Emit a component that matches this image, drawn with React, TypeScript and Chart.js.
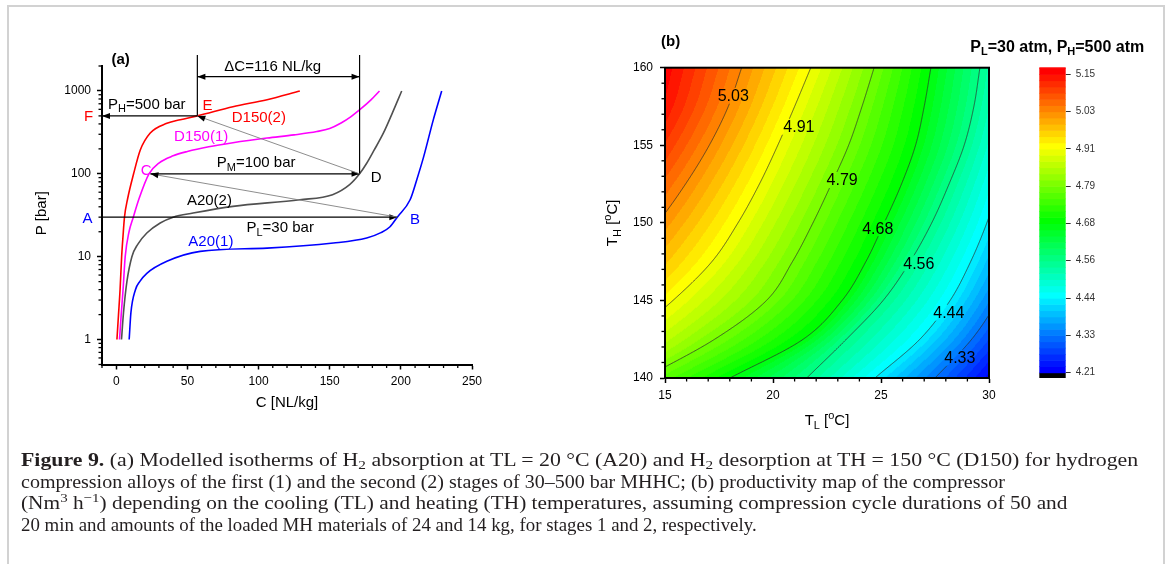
import React, { useEffect, useRef } from 'react';
import { Chart, registerables } from 'chart.js';

Chart.register(...registerables);

const SANS = "Arial, 'Liberation Sans', Helvetica, sans-serif";
const SERIF = "'Liberation Serif', 'Times New Roman', Times, serif";

// ---------------- Panel (a): isotherms, C [NL/kg] vs P [bar] ----------------
const D150_2_C = [0.5, 1.6, 2.7, 3.8, 4.8, 5.8, 8, 12.2, 16.9, 23.9, 35.6, 45, 57, 82, 106, 129];
const D150_2_P = [1, 2, 4, 10, 18, 30, 50, 100, 194, 311, 407, 450, 500, 645, 785, 1000];

const D150_1_C = [2.3, 3.5, 4.8, 6.3, 9, 12, 16, 23, 30, 40, 50, 65, 82, 106, 125, 141, 150, 158, 165, 172, 179, 185];
const D150_1_P = [1, 2, 4, 10, 20, 30, 50, 100, 135, 165, 186, 212, 237, 270, 295, 324, 352, 410, 490, 610, 780, 1000];

const A20_2_C = [3.7, 5.1, 7.5, 11, 15, 21.5, 30.9, 40, 54, 82, 129, 152, 164, 171, 176, 181, 187.7, 194, 200.6];
const A20_2_P = [1, 2.1, 5, 10, 14, 19.3, 25.5, 30, 33.6, 40.5, 48.6, 56, 74, 100, 134, 190, 309, 540, 1000];

const A20_1_C = [9.1, 10.3, 13.5, 16.5, 21.5, 35.6, 59, 106, 152.6, 176, 186, 192.4, 197.5, 206.5, 211.2, 216, 222.8, 228.7];
const A20_1_P = [1, 2.1, 4, 5, 6.3, 8.8, 11.6, 12.7, 14.6, 16.8, 19.5, 23, 30, 48.6, 85, 160, 448, 1000];

// cycle points A..F
const CYCLE_NAMES = ['A', 'B', 'C', 'D', 'E', 'F'];
const CYCLE_C = [-10, 197.5, 24, 171, 57, -10];
const CYCLE_P = [30, 30, 100, 100, 500, 500];

const X_TICKS_A = [0, 50, 100, 150, 200, 250];
const Y_TICKS_A = [1, 10, 100, 1000];

// text labels of panel (a), anchored in data coordinates
const LABELS_A: any[] = [
  { c: 64.1, p: 659, color: '#ff0000', parts: [['E']] },
  { c: -19.4, p: 490, color: '#ff0000', parts: [['F']] },
  { c: 21.1, p: 109, color: '#ff00ff', parts: [['C']] },
  { c: 182.6, p: 89, color: '#000000', parts: [['D']] },
  { c: -20.2, p: 28.5, color: '#0000ff', parts: [['A']] },
  { c: 210, p: 27.9, color: '#0000ff', parts: [['B']] },
  { c: 65.5, p: 47.7, color: '#000000', parts: [['A20(2)']] },
  { c: 66.5, p: 14.9, color: '#0000ff', parts: [['A20(1)']] },
  { c: 59.7, p: 281, color: '#ff00ff', parts: [['D150(1)']] },
  { c: 100.2, p: 469, color: '#ff0000', parts: [['D150(2)']] },
  { c: 21.5, p: 678, color: '#000000', parts: [['P'], ['H', 'sub'], ['=500 bar']] },
  { c: 98.3, p: 134.6, color: '#000000', parts: [['P'], ['M', 'sub'], ['=100 bar']] },
  { c: 115.2, p: 22.2, color: '#000000', parts: [['P'], ['L', 'sub'], ['=30 bar']] },
  { c: 110, p: 1930, color: '#000000', parts: [['\u0394C=116 NL/kg']] },
];
const DIM_TOP_P = 2716; // top of the dimension lines
const DIM_ARROW_P = 1487; // level of the ΔC arrow

const TH_SAMPLES = [140, 142.5, 145, 147.5, 150, 152.5, 155, 157.5, 160];
// T_L position [°C] of each contour level at the T_H samples above
const TL_AT_433 = [27.5, 29.2, 30.4, 31.3, 32.0, 32.6, 33.1, 33.5, 33.9];
const TL_AT_444 = [24.72, 26.8, 28.2, 29.15, 29.9, 30.5, 31.0, 31.4, 31.7];
const TL_AT_456 = [21.56, 23.4, 25.1, 26.35, 27.35, 28.15, 28.85, 29.3, 29.58];
const TL_AT_468 = [18.01, 21.4, 23.2, 24.3, 25.15, 25.95, 26.6, 27.0, 27.31];
const TL_AT_479 = [14.05, 17.3, 19.7, 20.9, 21.85, 22.7, 23.5, 24.12, 24.68];
const TL_AT_491 = [11.0, 13.2, 15.37, 17.17, 18.38, 19.37, 20.22, 21.0, 21.75];
const TL_AT_503 = [8.3, 9.9, 11.5, 13.1, 14.66, 15.95, 17.05, 17.93, 18.55];
const CONTOUR_LEVELS = [4.3275, 4.445, 4.5625, 4.68, 4.7975, 4.915, 5.0325];
const CONTOUR_TL = [TL_AT_433, TL_AT_444, TL_AT_456, TL_AT_468, TL_AT_479, TL_AT_491, TL_AT_503];
const CONTOUR_TEXT = ['4.33', '4.44', '4.56', '4.68', '4.79', '4.91', '5.03'];
const CONTOUR_LABEL_TL = [28.65, 28.14, 26.75, 24.85, 23.2, 21.2, 18.16];
const CONTOUR_LABEL_TH = [141.3, 144.2, 147.4, 149.65, 152.76, 156.2, 158.2];

const X_TICKS_B = [15, 20, 25, 30];
const Y_TICKS_B = [140, 145, 150, 155, 160];

const CB_TICKS = [4.21, 4.3275, 4.445, 4.5625, 4.68, 4.7975, 4.915, 5.0325, 5.15];
const CB_LABELS = ['4.21', '4.33', '4.44', '4.56', '4.68', '4.79', '4.91', '5.03', '5.15'];
const CB_MIN = 4.193;
const CB_MAX = 5.172;
const COLOR_LO = 4.21;
const COLOR_HI = 5.15;
const BAND = 0.1175 / 6;

// ---------------- caption ----------------
const CAP_LEFT = 21;
const CAP_RIGHT = [1138, 1005, 1068, 757];
const CAP_Y = [460, 481.5, 503, 524.5];

// ---------------- helpers ----------------
function rainbow(t: number) {
  const tt = Math.max(0, Math.min(1, t));
  const stops = [[0, 0, 255], [0, 255, 255], [0, 255, 0], [255, 255, 0], [255, 0, 0]];
  const f = tt * 4;
  const i = Math.min(3, Math.floor(f));
  const u = f - i;
  return stops[i].map((c, k) => Math.round(c + (stops[i + 1][k] - c) * u));
}

function bandColor(v: number) {
  if (v < COLOR_LO) return [0, 0, 0];
  const k = Math.floor((v - COLOR_LO) / BAND);
  return rainbow((k * BAND) / (COLOR_HI - COLOR_LO));
}

function cr(p0: number, p1: number, p2: number, p3: number, t: number) {
  return 0.5 * (2 * p1 + (-p0 + p2) * t + (2 * p0 - 5 * p1 + 4 * p2 - p3) * t * t + (-p0 + 3 * p1 - 3 * p2 + p3) * t * t * t);
}

// position (T_L) of one contour line at a given T_H
function lineTL(arr: number[], th: number) {
  const n = arr.length;
  const f = (th - TH_SAMPLES[0]) / (TH_SAMPLES[1] - TH_SAMPLES[0]);
  const i = Math.min(Math.max(Math.floor(f), 0), n - 2);
  const t = f - i;
  const g = (k: number) => (k < 0 ? 2 * arr[0] - arr[1] : k >= n ? 2 * arr[n - 1] - arr[n - 2] : arr[k]);
  return cr(g(i - 1), g(i), g(i + 1), g(i + 2), t);
}

// productivity at (T_L, T_H), linear between neighbouring contour lines
function prodAt(tl: number, th: number) {
  const pos = CONTOUR_TL.map((a) => lineTL(a, th));
  const L = CONTOUR_LEVELS;
  const n = L.length;
  if (tl >= pos[0]) return L[0] - ((tl - pos[0]) / (pos[0] - pos[1])) * (L[1] - L[0]);
  if (tl <= pos[n - 1]) return L[n - 1] + ((pos[n - 1] - tl) / (pos[n - 2] - pos[n - 1])) * (L[n - 1] - L[n - 2]);
  for (let k = 0; k < n - 1; k++) {
    if (tl <= pos[k] && tl >= pos[k + 1]) {
      const f = (pos[k] - tl) / (pos[k] - pos[k + 1]);
      return L[k] + f * (L[k + 1] - L[k]);
    }
  }
  return L[0];
}

function drawParts(ctx: any, x: number, y: number, parts: any[], size: number, color: string, align = 'center', bold = false) {
  const w = bold ? 'bold ' : '';
  const fontFor = (p: any) => `${w}${p[1] ? Math.round(size * 0.7) : size}px ${SANS}`;
  let total = 0;
  for (const p of parts) {
    ctx.font = fontFor(p);
    total += ctx.measureText(p[0]).width;
  }
  let cx = align === 'left' ? x : align === 'right' ? x - total : x - total / 2;
  ctx.fillStyle = color;
  ctx.textAlign = 'left';
  ctx.textBaseline = 'middle';
  for (const p of parts) {
    ctx.font = fontFor(p);
    const dy = p[1] === 'sub' ? size * 0.3 : p[1] === 'sup' ? -size * 0.33 : 0;
    ctx.fillText(p[0], cx, y + dy);
    cx += ctx.measureText(p[0]).width;
  }
}

function arrowHead(ctx: any, xa: number, ya: number, xb: number, yb: number) {
  const ang = Math.atan2(yb - ya, xb - xa);
  const L = 8, W = 3;
  const bx = xb - L * Math.cos(ang), by = yb - L * Math.sin(ang);
  ctx.fillStyle = '#000';
  ctx.beginPath();
  ctx.moveTo(xb, yb);
  ctx.lineTo(bx + W * Math.sin(ang), by - W * Math.cos(ang));
  ctx.lineTo(bx - W * Math.sin(ang), by + W * Math.cos(ang));
  ctx.closePath();
  ctx.fill();
}

function seg(ctx: any, x1: number, y1: number, x2: number, y2: number, color: string, lw: number) {
  ctx.strokeStyle = color;
  ctx.lineWidth = lw;
  ctx.beginPath();
  ctx.moveTo(x1, y1);
  ctx.lineTo(x2, y2);
  ctx.stroke();
}

const axisCommon = {
  grid: { display: true, drawOnChartArea: false, drawTicks: true, tickLength: 5, tickWidth: 1.5, color: '#000' },
  border: { display: true, width: 2, color: '#000' },
};

// ---------------- Panel (a) plugin ----------------
const panelAPlugin = {
  id: 'panelA',
  afterDraw(chart: any) {
    const { ctx, chartArea: a, scales } = chart;
    const X = (c: number) => scales.x.getPixelForValue(c);
    const Y = (p: number) => scales.y.getPixelForValue(p);
    ctx.save();
    ctx.lineCap = 'butt';
    for (let v = -10; v <= 250; v += 10) {
      if (v % 50 === 0) continue;
      seg(ctx, X(v), a.bottom, X(v), a.bottom + 3.5, '#000', 1.3);
    }
    for (let d = -1; d <= 3; d++) {
      for (let m = 2; m <= 9; m++) {
        const v = m * Math.pow(10, d);
        if (v < 0.5 - 1e-9 || v > 2000 + 1e-6) continue;
        seg(ctx, a.left - 3.5, Y(v), a.left, Y(v), '#000', 1.3);
      }
    }
    const P = (i: number) => [X(CYCLE_C[i]), Y(CYCLE_P[i])];
    const [ax, ay] = P(0), [bx, by] = P(1), [cx, cy] = P(2), [dx, dy] = P(3), [ex, ey] = P(4), [fx, fy] = P(5);
    seg(ctx, ex, ey, ex, Y(DIM_TOP_P), '#000', 1.2);
    seg(ctx, dx, dy, dx, Y(DIM_TOP_P), '#000', 1.2);
    const yd = Y(DIM_ARROW_P);
    seg(ctx, ex, yd, dx, yd, '#000', 1.2);
    arrowHead(ctx, dx, yd, ex, yd);
    arrowHead(ctx, ex, yd, dx, yd);
    seg(ctx, ax, ay, bx, by, '#000', 1.2);
    arrowHead(ctx, ax, ay, bx, by);
    seg(ctx, bx, by, cx, cy, '#808080', 0.9);
    arrowHead(ctx, bx, by, cx, cy);
    seg(ctx, cx, cy, dx, dy, '#000', 1.2);
    arrowHead(ctx, cx, cy, dx, dy);
    seg(ctx, dx, dy, ex, ey, '#808080', 0.9);
    arrowHead(ctx, dx, dy, ex, ey);
    seg(ctx, ex, ey, fx, fy, '#000', 1.2);
    arrowHead(ctx, ex, ey, fx, fy);
    for (const L of LABELS_A) drawParts(ctx, X(L.c), Y(L.p), L.parts, 15, L.color);
    drawParts(ctx, a.left + 9.5, a.top - 6.5, [['(a)']], 15, '#000', 'left', true);
    drawParts(ctx, (a.left + a.right) / 2, a.bottom + 38.5, [['C [NL/kg]']], 15, '#000');
    ctx.translate(a.left - 60, (a.top + a.bottom) / 2 - 2);
    ctx.rotate(-Math.PI / 2);
    drawParts(ctx, 0, 0, [['P [bar]']], 15, '#000');
    ctx.restore();
  },
};

// ---------------- Panel (b) plugin ----------------
const panelBPlugin = {
  id: 'panelB',
  beforeDatasetsDraw(chart: any) {
    const { ctx, chartArea: a, scales } = chart;
    const xs = scales.x, ys = scales.y;
    const w = Math.round(a.right - a.left), h = Math.round(a.bottom - a.top);
    const off = document.createElement('canvas');
    off.width = w;
    off.height = h;
    const octx = off.getContext('2d') as CanvasRenderingContext2D;
    const img = octx.createImageData(w, h);
    for (let j = 0; j < h; j++) {
      const th = ys.getValueForPixel(a.top + j + 0.5);
      for (let i = 0; i < w; i++) {
        const tl = xs.getValueForPixel(a.left + i + 0.5);
        const c = bandColor(prodAt(tl, th));
        const o = (j * w + i) * 4;
        img.data[o] = c[0];
        img.data[o + 1] = c[1];
        img.data[o + 2] = c[2];
        img.data[o + 3] = 255;
      }
    }
    octx.putImageData(img, 0, 0);
    ctx.save();
    ctx.drawImage(off, a.left, a.top, w, h);

    // contour lines, broken under their labels
    ctx.font = `16px ${SANS}`;
    ctx.beginPath();
    ctx.rect(a.left, a.top, a.right - a.left, a.bottom - a.top);
    CONTOUR_TEXT.forEach((t, k) => {
      const tw = ctx.measureText(t).width;
      const cx = xs.getPixelForValue(CONTOUR_LABEL_TL[k]);
      const cy = ys.getPixelForValue(CONTOUR_LABEL_TH[k]);
      ctx.rect(cx - tw / 2 - 2, cy - 8, tw + 4, 16);
    });
    ctx.clip('evenodd');
    ctx.strokeStyle = 'rgba(45,45,45,0.9)';
    ctx.lineWidth = 0.8;
    CONTOUR_TL.forEach((arr) => {
      ctx.beginPath();
      for (let s = 0; s <= 400; s++) {
        const th = 140 + (s * 20) / 400;
        const px = xs.getPixelForValue(lineTL(arr, th));
        const py = ys.getPixelForValue(th);
        if (s === 0) ctx.moveTo(px, py);
        else ctx.lineTo(px, py);
      }
      ctx.stroke();
    });
    ctx.restore();

    ctx.save();
    ctx.fillStyle = '#000';
    ctx.font = `16px ${SANS}`;
    ctx.textAlign = 'center';
    ctx.textBaseline = 'middle';
    CONTOUR_TEXT.forEach((t, k) => {
      ctx.fillText(t, xs.getPixelForValue(CONTOUR_LABEL_TL[k]), ys.getPixelForValue(CONTOUR_LABEL_TH[k]) + 1);
    });
    ctx.restore();
  },
  afterDraw(chart: any) {
    const { ctx, chartArea: a, scales } = chart;
    const xs = scales.x, ys = scales.y;
    ctx.save();
    ctx.strokeStyle = '#000';
    ctx.lineWidth = 2;
    ctx.strokeRect(a.left, a.top, a.right - a.left, a.bottom - a.top);
    for (let v = 15; v <= 30; v += 1) {
      if (v % 5 === 0) continue;
      const px = xs.getPixelForValue(v);
      seg(ctx, px, a.bottom, px, a.bottom + 3.5, '#000', 1.3);
    }
    for (let v = 140; v <= 160; v += 1) {
      if (v % 5 === 0) continue;
      const py = ys.getPixelForValue(v);
      seg(ctx, a.left - 3.5, py, a.left, py, '#000', 1.3);
    }
    drawParts(ctx, a.left - 4, a.top - 26, [['(b)']], 15, '#000', 'left', true);
    drawParts(ctx, (a.left + a.right) / 2, a.bottom + 43, [['T'], ['L', 'sub'], [' ['], ['o', 'sup'], ['C]']], 15, '#000');
    ctx.translate(a.left - 52, (a.top + a.bottom) / 2);
    ctx.rotate(-Math.PI / 2);
    drawParts(ctx, 0, 0, [['T'], ['H', 'sub'], [' ['], ['o', 'sup'], ['C]']], 15, '#000');
    ctx.restore();
  },
};

// ---------------- colour bar plugin ----------------
const colorBarPlugin = {
  id: 'colorBar',
  beforeDatasetsDraw(chart: any) {
    const { ctx, chartArea: a, scales } = chart;
    const Y = (v: number) => scales.y.getPixelForValue(v);
    ctx.save();
    ctx.fillStyle = '#000';
    ctx.fillRect(a.left, Y(COLOR_LO), a.right - a.left, Y(CB_MIN) - Y(COLOR_LO));
    for (let k = 0; COLOR_LO + k * BAND < CB_MAX; k++) {
      const lo = COLOR_LO + k * BAND;
      const hi = Math.min(lo + BAND, CB_MAX);
      const c = rainbow((k * BAND) / (COLOR_HI - COLOR_LO));
      ctx.fillStyle = `rgb(${c[0]},${c[1]},${c[2]})`;
      ctx.fillRect(a.left, Y(hi), a.right - a.left, Y(lo) - Y(hi) + 0.6);
    }
    ctx.restore();
  },
  afterDraw(chart: any) {
    const { ctx, chartArea: a } = chart;
    ctx.save();
    drawParts(ctx, a.right + 78.5, a.top - 20, [['P'], ['L', 'sub'], ['=30 atm, P'], ['H', 'sub'], ['=500 atm']], 16, '#000', 'right', true);
    ctx.restore();
  },
};

function makeSeries(cs: number[], ps: number[], color: string) {
  return {
    data: cs.map((c, i) => ({ x: c, y: ps[i] })),
    borderColor: color,
    backgroundColor: color,
    borderWidth: 1.6,
    pointRadius: 0,
    showLine: true,
    fill: false,
    cubicInterpolationMode: 'monotone',
  };
}

const tickFont = { family: SANS, size: 12 };

export default function App() {
  const aRef = useRef<HTMLCanvasElement | null>(null);
  const bRef = useRef<HTMLCanvasElement | null>(null);
  const cRef = useRef<HTMLCanvasElement | null>(null);
  const capRefs = useRef<(HTMLDivElement | null)[]>([]);

  useEffect(() => {
    document.documentElement.style.overflow = 'hidden';
    document.body.style.overflow = 'hidden';
    Chart.defaults.font.family = SANS;

    const chartA = new Chart(aRef.current as HTMLCanvasElement, {
      type: 'scatter',
      data: {
        datasets: [
          makeSeries(A20_1_C, A20_1_P, '#0000ff'),
          makeSeries(A20_2_C, A20_2_P, '#505050'),
          makeSeries(D150_1_C, D150_1_P, '#ff00ff'),
          makeSeries(D150_2_C, D150_2_P, '#ff0000'),
        ] as any,
      },
      options: {
        responsive: false,
        animation: false,
        events: [],
        layout: { padding: { left: 0, right: 88, top: 46, bottom: 0 } },
        plugins: { legend: { display: false }, tooltip: { enabled: false } },
        scales: {
          x: {
            type: 'linear', min: -10, max: 250,
            afterBuildTicks: (s: any) => { s.ticks = X_TICKS_A.map((v) => ({ value: v })); },
            afterFit: (s: any) => { s.height = 85.5; },
            ticks: { color: '#000', font: tickFont, padding: 5, maxRotation: 0, callback: (v: any) => String(v) },
            ...axisCommon,
          },
          y: {
            type: 'logarithmic', min: 0.5, max: 2000,
            afterBuildTicks: (s: any) => { s.ticks = Y_TICKS_A.map((v) => ({ value: v })); },
            afterFit: (s: any) => { s.width = 102; },
            ticks: { color: '#000', font: tickFont, padding: 6, callback: (v: any) => String(v) },
            ...axisCommon,
          },
        } as any,
      },
      plugins: [panelAPlugin],
    } as any);

    const chartB = new Chart(bRef.current as HTMLCanvasElement, {
      type: 'scatter',
      data: { datasets: [] },
      options: {
        responsive: false,
        animation: false,
        events: [],
        layout: { padding: { left: 0, right: 31, top: 47.7, bottom: 0 } },
        plugins: { legend: { display: false }, tooltip: { enabled: false } },
        scales: {
          x: {
            type: 'linear', min: 15, max: 30,
            afterBuildTicks: (s: any) => { s.ticks = X_TICKS_B.map((v) => ({ value: v })); },
            afterFit: (s: any) => { s.height = 72; },
            ticks: { color: '#000', font: tickFont, padding: 5, maxRotation: 0 },
            ...axisCommon,
          },
          y: {
            type: 'linear', min: 140, max: 160,
            afterBuildTicks: (s: any) => { s.ticks = Y_TICKS_B.map((v) => ({ value: v })); },
            afterFit: (s: any) => { s.width = 105; },
            ticks: { color: '#000', font: tickFont, padding: 7 },
            ...axisCommon,
          },
        } as any,
      },
      plugins: [panelBPlugin],
    } as any);

    const chartC = new Chart(cRef.current as HTMLCanvasElement, {
      type: 'scatter',
      data: { datasets: [] },
      options: {
        responsive: false,
        animation: false,
        events: [],
        layout: { padding: { left: 99.3, right: 0, top: 47.3, bottom: 22 } },
        plugins: { legend: { display: false }, tooltip: { enabled: false } },
        scales: {
          x: { type: 'linear', display: false, min: 0, max: 1 },
          y: {
            type: 'linear', position: 'right', min: CB_MIN, max: CB_MAX,
            afterBuildTicks: (s: any) => { s.ticks = CB_TICKS.map((v) => ({ value: v })); },
            afterFit: (s: any) => { s.width = 99.3; },
            ticks: { color: '#333', font: { family: SANS, size: 10 }, padding: 5, callback: (_v: any, i: number) => CB_LABELS[i] },
            grid: { display: true, drawOnChartArea: false, drawTicks: true, tickLength: 5, tickWidth: 1, color: '#333' },
            border: { display: false },
          },
        } as any,
      },
      plugins: [colorBarPlugin],
    } as any);

    // fit every caption line to its measured extent in the reference
    const fit = () => {
      capRefs.current.forEach((el, i) => {
        if (!el) return;
        el.style.transform = 'none';
        const w = el.offsetWidth;
        if (w > 0) el.style.transform = `scaleX(${(CAP_RIGHT[i] - CAP_LEFT) / w})`;
      });
    };
    fit();
    if ((document as any).fonts && (document as any).fonts.ready) (document as any).fonts.ready.then(fit);

    return () => {
      chartA.destroy();
      chartB.destroy();
      chartC.destroy();
    };
  }, []);

  const sub = { fontSize: '0.7em', verticalAlign: '-0.25em', lineHeight: 0 } as React.CSSProperties;
  const sup = { fontSize: '0.7em', verticalAlign: '0.55em', lineHeight: 0 } as React.CSSProperties;
  const lines = [
    <>
      <b>Figure 9.</b> (a) Modelled isotherms of H<span style={sub}>2</span> absorption at TL = 20 °C (A20) and H<span style={sub}>2</span> desorption at TH = 150 °C (D150) for hydrogen
    </>,
    <>compression alloys of the first (1) and the second (2) stages of 30–500 bar MHHC; (b) productivity map of the compressor</>,
    <>
      (Nm<span style={sup}>3</span> h<span style={sup}>−1</span>) depending on the cooling (TL) and heating (TH) temperatures, assuming compression cycle durations of 50 and
    </>,
    <>20 min and amounts of the loaded MH materials of 24 and 14 kg, for stages 1 and 2, respectively.</>,
  ];

  return (
    <div style={{ position: 'fixed', left: 0, top: 0, width: 1170, height: 564, background: '#fff', overflow: 'hidden' }}>
      <div
        style={{
          position: 'absolute', left: 7, top: 5, width: 1154, height: 600,
          borderTop: '2px solid #d2d2d2', borderLeft: '2px solid #d2d2d2', borderRight: '2px solid #d2d2d2',
        }}
      />
      <canvas ref={aRef} width={560} height={430} style={{ position: 'absolute', left: 0, top: 20, width: 560, height: 430 }} />
      <canvas ref={bRef} width={460} height={430} style={{ position: 'absolute', left: 560, top: 20, width: 460, height: 430 }} />
      <canvas ref={cRef} width={225} height={380} style={{ position: 'absolute', left: 940, top: 20, width: 225, height: 380 }} />
      {lines.map((content, i) => (
        <div
          key={i}
          ref={(el) => { capRefs.current[i] = el; }}
          style={{
            position: 'absolute', left: CAP_LEFT, top: CAP_Y[i] - 11, whiteSpace: 'nowrap',
            fontFamily: SERIF, fontSize: 19, lineHeight: '22px', color: '#231f20',
            transformOrigin: 'left center',
          }}
        >
          {content}
        </div>
      ))}
    </div>
  );
}
